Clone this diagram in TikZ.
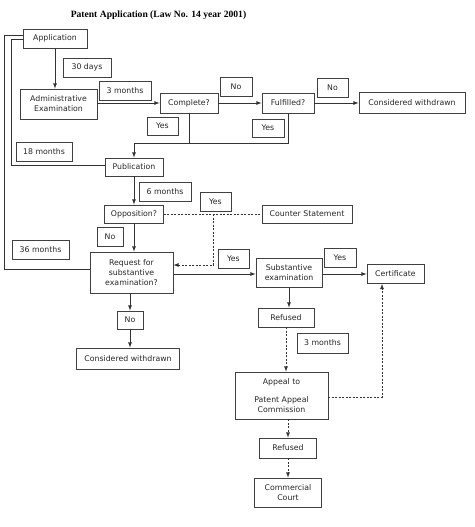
\documentclass[tikz,border=0pt]{standalone}
\usepackage{fontspec}
\setmainfont{DejaVu Sans}
\newfontfamily\titlefont{Liberation Serif}
\usepackage{tikz}
\usetikzlibrary{positioning,shapes,arrows}

\begin{document}
\begin{tikzpicture}[x=1pt,y=-1pt,line width=0.8pt,>=latex,
	every node/.style={font=\fontsize{7.8}{10}\selectfont, text=black!85},
	box/.style={draw=black!75, align=center, inner sep=1pt, minimum height=19pt},
	flow/.style={draw=black!80, ->},
	opt/.style={draw=black!80, dash pattern=on 2pt off 1.5pt}]

	\useasboundingbox (0,0) rectangle (474,527);

	\node[font=\titlefont\fontsize{9.6}{11}\selectfont\bfseries, text=black] (title) at (158.5,15.5) {Patent Application (Law No. 14 year 2001)};

	% main chain
	\node[box, minimum width=64pt] (app) at (55,38.5) {Application};
	\node[box, minimum width=77pt, minimum height=30pt] (admin) at (58.5,104) {Administrative\\Examination};
	\node[box, minimum width=58pt, minimum height=20pt] (complete) at (189,103) {Complete?};
	\node[box, minimum width=52pt, minimum height=20pt] (fulfilled) at (288,103) {Fulfilled?};
	\node[box, minimum width=106pt, minimum height=21pt] (withdrawnA) at (412,103) {Considered withdrawn};
	\node[box, minimum width=58pt, minimum height=18pt] (pub) at (134,167) {Publication};
	\node[box, minimum width=59pt, minimum height=18pt] (opp) at (134,214) {Opposition?};
	\node[box, minimum width=90pt, minimum height=18pt] (counter) at (307,214) {Counter Statement};
	\node[box, minimum width=83pt, minimum height=41pt] (request) at (131.5,272.5) {Request for\\substantive\\examination?};
	\node[box, minimum width=66pt, minimum height=29pt] (subst) at (289,273) {Substantive\\examination};
	\node[box, minimum width=57pt] (cert) at (395.5,274) {Certificate};
	\node[box, minimum width=56pt] (refusedA) at (286,317.5) {Refused};
	\node[box, minimum width=93pt, minimum height=47pt] (appeal) at (281.5,395.5) {Appeal to\\[8pt]Patent Appeal\\Commission};
	\node[box, minimum width=57pt, minimum height=20pt] (refusedB) at (288,448) {Refused};
	\node[box, minimum width=67pt, minimum height=29pt] (court) at (288,492.5) {Commercial\\Court};
	\node[box, minimum width=26pt, minimum height=18pt] (noD) at (130,320) {No};
	\node[box, minimum width=103pt, minimum height=21pt] (withdrawnB) at (128,358.5) {Considered withdrawn};

	% time and answer labels
	\node[box, minimum width=48pt] (days30) at (87,67.5) {30 days};
	\node[box, minimum width=52pt] (monthsA) at (125,90.5) {3 months};
	\node[box, minimum width=32pt] (noA) at (236,86.5) {No};
	\node[box, minimum width=31pt] (noB) at (332.5,87.5) {No};
	\node[box, minimum width=31pt, minimum height=18pt] (yesA) at (162.5,126) {Yes};
	\node[box, minimum width=32pt, minimum height=18pt] (yesB) at (268,128) {Yes};
	\node[box, minimum width=56pt] (months18) at (44,151.5) {18 months};
	\node[box, minimum width=52pt] (months6) at (165,191.5) {6 months};
	\node[box, minimum width=31pt] (yesC) at (215.5,201.5) {Yes};
	\node[box, minimum width=26pt] (noC) at (110,236.5) {No};
	\node[box, minimum width=57pt] (months36) at (40.5,249.5) {36 months};
	\node[box, minimum width=31pt] (yesD) at (233.5,258.5) {Yes};
	\node[box, minimum width=32pt] (yesE) at (340,257.5) {Yes};
	\node[box, minimum width=51pt, minimum height=20pt] (monthsB) at (322.5,343) {3 months};

	\coordinate (merge) at (134,143);
	\coordinate (split) at (213,214);

	\draw[flow] (app.south) -- (app.south |- admin.north);
	\draw[flow] (admin.east |- complete.west) -- (complete.west);
	\draw[flow] (complete.east) -- (fulfilled.west);
	\draw[flow] (fulfilled.east) -- (withdrawnA.west);
	\draw[draw=black!80] (complete.south) -- (complete.south |- merge);
	\draw[flow] (fulfilled.south) |- (merge) -- (pub.north);

	% back to publication and request
	\draw[draw=black!80] ([yshift=3.5pt]app.west) -| ([xshift=-85pt,yshift=3.5pt]request.west) -- ([yshift=3.5pt]request.west);
	\draw[draw=black!80] ([yshift=-0.5pt]app.west) -| ([xshift=-93pt,yshift=2pt]pub.west) -- ([yshift=2pt]pub.west);

	\draw[flow] (pub.south) -- (opp.north);
	\draw[flow] (opp.south) -- (opp.south |- request.north);
	\draw[opt] (opp.east) -- (counter.west);
	\draw[opt,->] (split) |- ([yshift=7.5pt]request.east);

	\draw[flow] ([yshift=-1.5pt]request.east) -- (subst.west |- 0,274);
	\draw[flow] (subst.east |- cert.west) -- (cert.west);
	\draw[flow] (subst.south) -- (subst.south |- refusedA.north);
	\draw[opt,->] (refusedA.south) -- (appeal.north -| refusedA.south);
	\draw[opt,->] ([yshift=-1.5pt]appeal.east) -| ([xshift=-13.5pt]cert.south);
	\draw[opt,->] (appeal.south -| refusedB.north) -- (refusedB.north);
	\draw[opt,->] (refusedB.south) -- (court.north);

	\draw[flow] (request.south -| noD.north) -- (noD.north);
	\draw[flow] (noD.south) -- (noD.south |- withdrawnB.north);
\end{tikzpicture}
\end{document}
